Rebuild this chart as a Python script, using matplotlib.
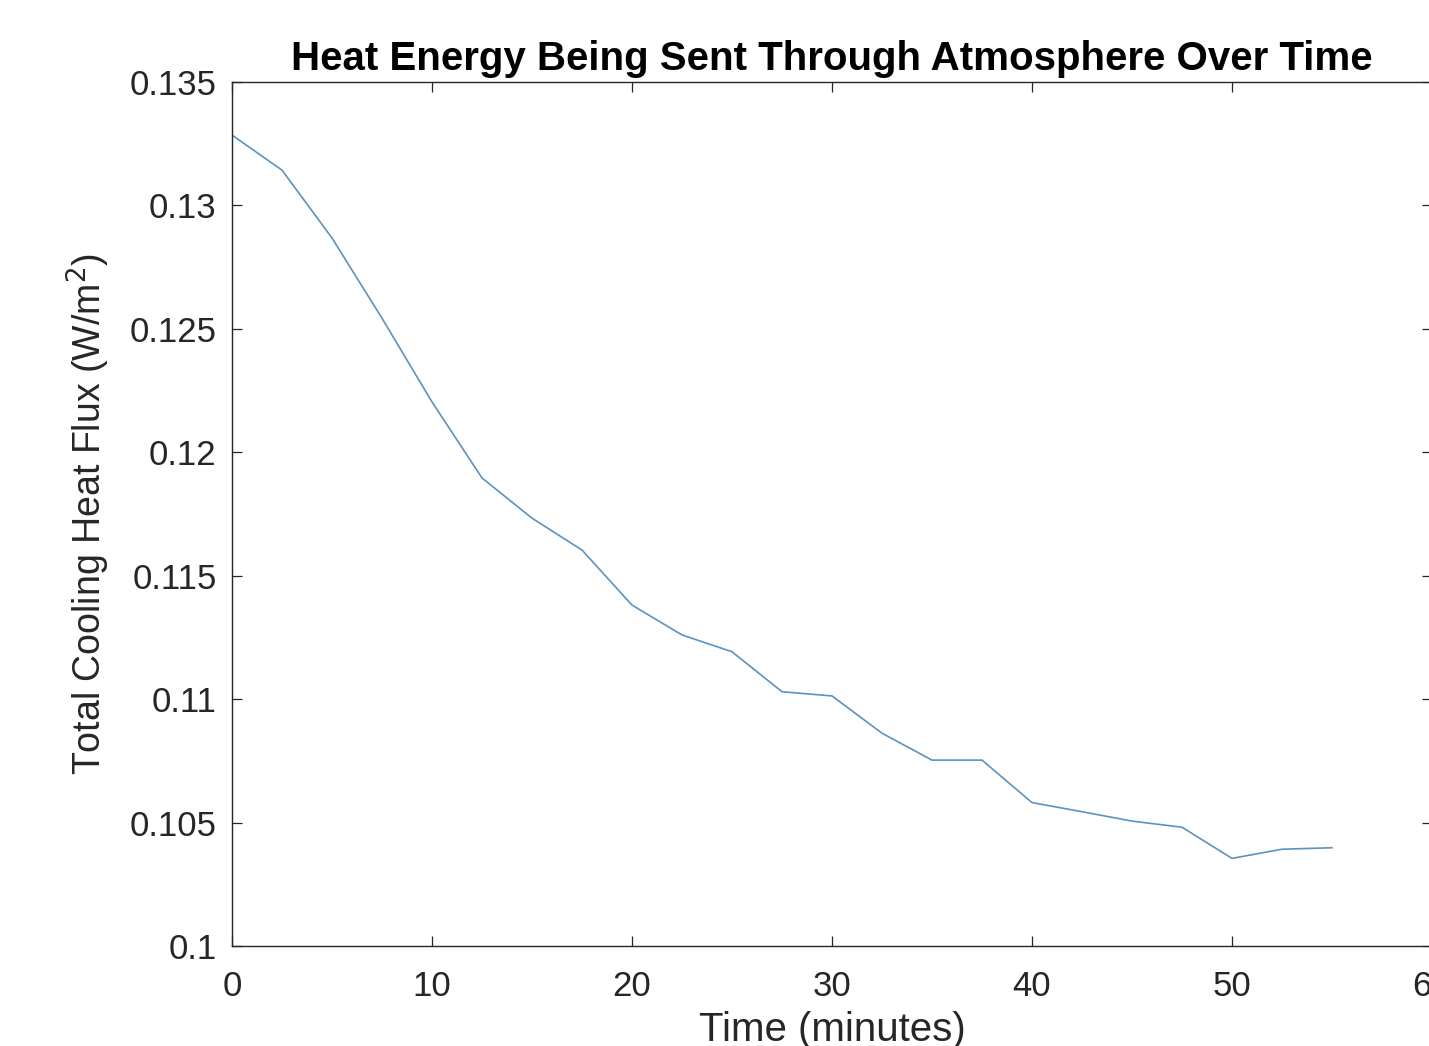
import matplotlib
matplotlib.use("Agg")
import matplotlib.pyplot as plt

time_min = [0, 2.5, 5, 7.5, 10, 12.5, 15, 17.5, 20, 22.5, 25, 27.5, 30, 32.5,
            35, 37.5, 40, 42.5, 45, 47.5, 50, 52.5, 55]
heat_flux = [0.13285, 0.13143, 0.12868, 0.12543, 0.12204, 0.11896, 0.11733,
             0.11604, 0.11381, 0.11260, 0.11192, 0.11030, 0.11013, 0.10862,
             0.10753, 0.10753, 0.10581, 0.10544, 0.10506, 0.10481, 0.10355,
             0.10392, 0.10398]
x_ticks = [0, 10, 20, 30, 40, 50, 60]
y_ticks = [0.1, 0.105, 0.11, 0.115, 0.12, 0.125, 0.13, 0.135]
y_tick_labels = ["0.1", "0.105", "0.11", "0.115", "0.12", "0.125", "0.13", "0.135"]

plt.rcParams['font.family'] = ['Liberation Sans', 'DejaVu Sans']

W, H = 1429, 1046
fig = plt.figure(figsize=(W / 100, H / 100), dpi=100)
left, right, top, bottom = 232, 1432, 82, 946
ax = fig.add_axes([left / W, (H - bottom) / H, (right - left) / W, (bottom - top) / H])

ax.plot(time_min, heat_flux, color='#5a92c0', linewidth=1.2)
ax.set_xlim(0, 60)
ax.set_ylim(0.1, 0.135)
ax.set_xticks(x_ticks)
ax.set_yticks(y_ticks)
ax.set_yticklabels(y_tick_labels)

dark = '#262626'
for s in ax.spines.values():
    s.set_color(dark)
    s.set_linewidth(1.0)
ax.tick_params(direction='in', length=7, width=0.9, colors=dark,
               labelsize=25, top=True, right=True)
ax.tick_params(axis='x', pad=17)
ax.tick_params(axis='y', pad=11)

ax.set_title("Heat Energy Being Sent Through Atmosphere Over Time",
             fontsize=29, fontweight='bold', color='black', pad=9)
ax.set_xlabel("Time (minutes)", fontsize=29, color=dark, labelpad=6)
ax.set_ylabel("Total Cooling Heat Flux (W/m$^2$)", fontsize=27, color=dark, labelpad=13)

fig.savefig("out.png", dpi=100)
